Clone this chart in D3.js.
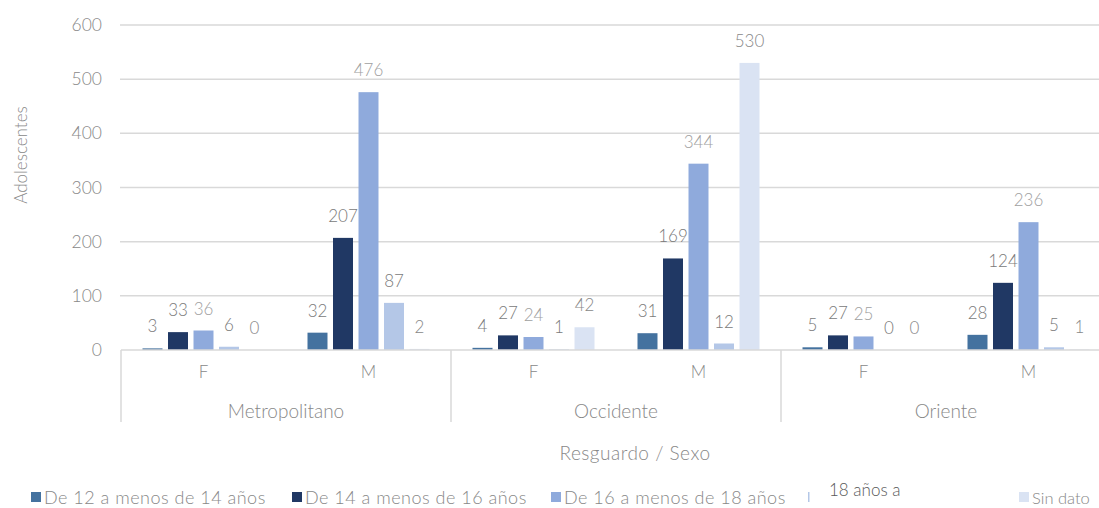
<!DOCTYPE html>
<html><head><meta charset="utf-8">
<script src="https://cdn.jsdelivr.net/npm/d3@7"></script>
<style>
body{margin:0;background:#fff;}
text{font-family:Lato,"Open Sans",sans-serif;font-weight:300;}
</style></head>
<body>
<svg id="chart" width="1099" height="508"></svg>
<script>
const regions = ["Metropolitano", "Occidente", "Oriente"];
const sexes = ["F", "M"];
const series = ["De 12 a menos de 14 años", "De 14 a menos de 16 años", "De 16 a menos de 18 años", "18 años a", "Sin dato"];
const colors = ["#44729f", "#203864", "#8faadc", "#b4c7e7", "#dae3f3"];
const labelColors = ["#7a7a7a", "#7a7a7a", "#a0a0a0", "#7a7a7a", "#888888"];
// values per region, per sex, per series
const metropolitanoF = [3, 33, 36, 6, 0];
const metropolitanoM = [32, 207, 476, 87, 2];
const occidenteF = [4, 27, 24, 1, 42];
const occidenteM = [31, 169, 344, 12, 530];
const orienteF = [5, 27, 25, 0, 0];
const orienteM = [28, 124, 236, 5, 1];
const yTicks = [0, 100, 200, 300, 400, 500, 600];

const table = [
  {region: "Metropolitano", sex: "F", values: metropolitanoF},
  {region: "Metropolitano", sex: "M", values: metropolitanoM},
  {region: "Occidente", sex: "F", values: occidenteF},
  {region: "Occidente", sex: "M", values: occidenteM},
  {region: "Oriente", sex: "F", values: orienteF},
  {region: "Oriente", sex: "M", values: orienteM}
];

const svg = d3.select("#chart");
const mLeft = 121, mRight = 1111, mTop = 25, mBottom = 350;

const y = d3.scaleLinear().domain([0, 600]).range([mBottom, mTop]);
const xRegion = d3.scaleBand().domain(regions).range([mLeft, mRight]);
const xSex = d3.scaleBand().domain(sexes).range([0, xRegion.bandwidth()]);
const xSeries = d3.scaleBand().domain(series).range([0, xSex.bandwidth()]).paddingInner(0.216).paddingOuter(0.843);

// y axis + gridlines
const yAxis = d3.axisLeft(y).tickValues(yTicks).tickSize(0).tickPadding(0);
const gy = svg.append("g").attr("transform", `translate(${mLeft},0)`).call(yAxis);
gy.select(".domain").remove();
gy.selectAll(".tick line").remove();
gy.selectAll(".tick text").attr("x", -19).attr("fill", "#888").style("font-size", "17.5px").style("font-family", "Lato, sans-serif").style("font-weight", 300);
svg.append("g").selectAll("line").data(yTicks.filter(d => d > 0)).join("line")
  .attr("x1", mLeft - 1).attr("x2", 1099).attr("y1", d => y(d)).attr("y2", d => y(d))
  .attr("stroke", "#d9d9d9").attr("stroke-width", 1.5);

// bars
const cells = svg.append("g").selectAll("g").data(table).join("g")
  .attr("transform", d => `translate(${xRegion(d.region) + xSex(d.sex)},0)`);
cells.selectAll("rect").data(d => d.values.map((v, i) => ({v, s: series[i], i}))).join("rect")
  .attr("x", d => xSeries(d.s)).attr("width", xSeries.bandwidth())
  .attr("y", d => y(d.v)).attr("height", d => y(0) - y(d.v))
  .attr("fill", d => colors[d.i]);
cells.selectAll("text").data(d => d.values.map((v, i) => ({v, s: series[i], i}))).join("text")
  .attr("x", d => xSeries(d.s) + xSeries.bandwidth() / 2)
  .attr("y", d => y(d.v) - 16)
  .attr("text-anchor", "middle").attr("fill", d => labelColors[d.i])
  .style("font-size", "17px").text(d => d.v);

// category axis box
const axisG = svg.append("g").attr("stroke", "#d9d9d9").attr("stroke-width", 1.5);
axisG.append("line").attr("x1", mLeft).attr("x2", 1099).attr("y1", mBottom).attr("y2", mBottom);
regions.forEach(r => {
  axisG.append("line").attr("x1", xRegion(r)).attr("x2", xRegion(r)).attr("y1", mBottom).attr("y2", 422);
});
table.forEach(d => {
  svg.append("text").attr("x", xRegion(d.region) + xSex(d.sex) + xSex.bandwidth() / 2).attr("y", 378)
    .attr("text-anchor", "middle").attr("fill", "#888").style("font-size", "17px").text(d.sex);
});
regions.forEach(r => {
  svg.append("text").attr("x", xRegion(r) + xRegion.bandwidth() / 2).attr("y", 418)
    .attr("text-anchor", "middle").attr("fill", "#888").style("font-size", "19px").text(r);
});

// axis titles
svg.append("text").attr("x", 635).attr("y", 460).attr("text-anchor", "middle")
  .attr("fill", "#888").style("font-size", "19px").style("letter-spacing", "0.5px").text("Resguardo / Sexo");
svg.append("text").attr("transform", "translate(27,155) rotate(-90)").attr("text-anchor", "middle")
  .attr("fill", "#888").style("font-size", "17px").text("Adolescentes");

// legend
const legendX = [31, 292, 551, 808, 1019];
series.forEach((s, i) => {
  const g = svg.append("g");
  if (i === 3) {
    g.append("rect").attr("x", legendX[i]).attr("y", 492).attr("width", 1.5).attr("height", 10).attr("fill", colors[i]);
    g.append("text").attr("x", 829).attr("y", 496).attr("fill", "#595959").style("font-size", "17px").text(s);
  } else {
    g.append("rect").attr("x", legendX[i]).attr("y", 492).attr("width", 10).attr("height", 10).attr("fill", colors[i]);
    g.append("text").attr("x", legendX[i] + 13).attr("y", 504).attr("fill", "#888")
      .style("font-size", i === 4 ? "16.5px" : "18px").style("letter-spacing", i === 4 ? "0px" : "0.5px").text(s);
  }
});
</script>
</body></html>
